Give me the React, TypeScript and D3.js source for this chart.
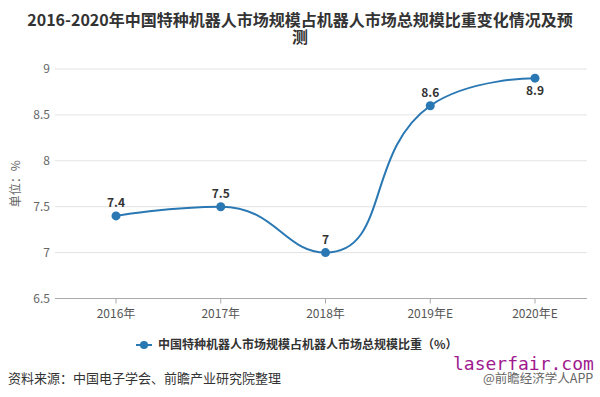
import React from "react";
import * as d3 from "d3";

const categories = ["2016年", "2017年", "2018年", "2019年E", "2020年E"];
const values = [7.4, 7.5, 7.0, 8.6, 8.9];
const yTicks = [6.5, 7, 7.5, 8, 8.5, 9];
const titleLines = ["2016-2020年中国特种机器人市场规模占机器人市场总规模比重变化情况及预", "测"];
const seriesName = "中国特种机器人市场规模占机器人市场总规模比重（%）";
const sourceText = "资料来源：中国电子学会、前瞻产业研究院整理";

const W = 600;
const H = 397;
const FONT = "'Noto Sans CJK SC', 'Noto Sans', sans-serif";
const BLUE = "#2a78b3";

function smoothPath(pts: [number, number][], smooth = 0.5): string {
  const p = d3.path();
  const n = pts.length;
  const cpPrev: [number, number][] = [];
  const cpNext: [number, number][] = [];
  for (let i = 0; i < n; i++) {
    const [x, y] = pts[i];
    if (i === 0 || i === n - 1) {
      cpPrev[i] = [x, y];
      cpNext[i] = [x, y];
      continue;
    }
    const [px, py] = pts[i - 1];
    const [nx, ny] = pts[i + 1];
    let vx = nx - px;
    let vy = ny - py;
    const lenPrev = Math.hypot(x - px, y - py);
    const lenNext = Math.hypot(nx - x, ny - y);
    const ratio = lenNext / (lenNext + lenPrev);
    let ncx = x + vx * smooth * ratio;
    let ncy = y + vy * smooth * ratio;
    ncx = Math.max(Math.min(ncx, Math.max(nx, x)), Math.min(nx, x));
    ncy = Math.max(Math.min(ncy, Math.max(ny, y)), Math.min(ny, y));
    vx = ncx - x;
    vy = ncy - y;
    let cx = x - (vx * lenPrev) / lenNext;
    let cy = y - (vy * lenPrev) / lenNext;
    cx = Math.max(Math.min(cx, Math.max(px, x)), Math.min(px, x));
    cy = Math.max(Math.min(cy, Math.max(py, y)), Math.min(py, y));
    vx = x - cx;
    vy = y - cy;
    ncx = x + (vx * lenNext) / lenPrev;
    ncy = y + (vy * lenNext) / lenPrev;
    cpPrev[i] = [cx, cy];
    cpNext[i] = [ncx, ncy];
  }
  p.moveTo(pts[0][0], pts[0][1]);
  for (let i = 1; i < n; i++) {
    p.bezierCurveTo(cpNext[i - 1][0], cpNext[i - 1][1], cpPrev[i][0], cpPrev[i][1], pts[i][0], pts[i][1]);
  }
  return p.toString();
}

export default function App() {
  const x = d3.scalePoint<string>().domain(categories).range([116, 535]);
  const y = d3.scaleLinear().domain([6.5, 9]).range([298.5, 69]);
  const pts: [number, number][] = categories.map((c, i) => [x(c) as number, y(values[i])]);
  const d = smoothPath(pts, 0.5);
  const gridX0 = 55;
  const gridX1 = 587;

  return (
    <svg width={W} height={H} style={{ position: "absolute", left: 0, top: 0, background: "#fff" }} fontFamily={FONT}>
      <rect width={W} height={H} fill="#fff" />
      {titleLines.map((t, i) => (
        <text key={i} x={W / 2} y={26 + i * 17} textAnchor="middle" fontSize={16} fontWeight="bold" fill="#333">
          {t}
        </text>
      ))}
      {yTicks.map((t) => (
        <g key={t}>
          {t !== 6.5 && <line x1={gridX0} x2={gridX1} y1={y(t)} y2={y(t)} stroke="#e3e3e3" strokeWidth={1} />}
          <text x={50} y={y(t)} dy="0.35em" textAnchor="end" fontSize={12} fill="#666">
            {t}
          </text>
        </g>
      ))}
      <line x1={gridX0} x2={gridX1} y1={y(6.5)} y2={y(6.5)} stroke="#aaa" strokeWidth={1} />
      {categories.map((c) => (
        <g key={c}>
          <line x1={x(c)} x2={x(c)} y1={y(6.5)} y2={y(6.5) + 5} stroke="#aaa" />
          <text x={x(c)} y={y(6.5) + 19} textAnchor="middle" fontSize={12} fill="#555">
            {c}
          </text>
        </g>
      ))}
      <text transform={`translate(20,${(y(6.5) + y(9)) / 2}) rotate(-90)`} textAnchor="middle" fontSize={12} fill="#666">
        单位：%
      </text>
      <path d={d} fill="none" stroke={BLUE} strokeWidth={2} />
      {pts.map(([px, py], i) => (
        <g key={i}>
          <circle cx={px} cy={py} r={4.5} fill={BLUE} />
          <text
            x={px}
            y={i === 4 ? py + 17 : py - 9}
            textAnchor="middle"
            fontSize={12}
            fontWeight="bold"
            fill="#333"
          >
            {values[i]}
          </text>
        </g>
      ))}
      <g transform="translate(0,345)">
        <line x1={136} x2={152} y1={0} y2={0} stroke={BLUE} strokeWidth={2} />
        <circle cx={144} cy={0} r={4} fill={BLUE} />
        <text x={158} y={0} dy="0.35em" fontSize={12} fontWeight="bold" fill="#333">
          {seriesName}
        </text>
      </g>
      <text x={8} y={383} fontSize={13} fill="#333">
        {sourceText}
      </text>
      <text x={453} y={370} fontSize={18} fill="#a01a8e" fontFamily="'DejaVu Sans Mono', monospace">
        laserfair.com
      </text>
      <text x={483} y={383} fontSize={12.5} fill="#666">
        @前瞻经济学人APP
      </text>
    </svg>
  );
}
